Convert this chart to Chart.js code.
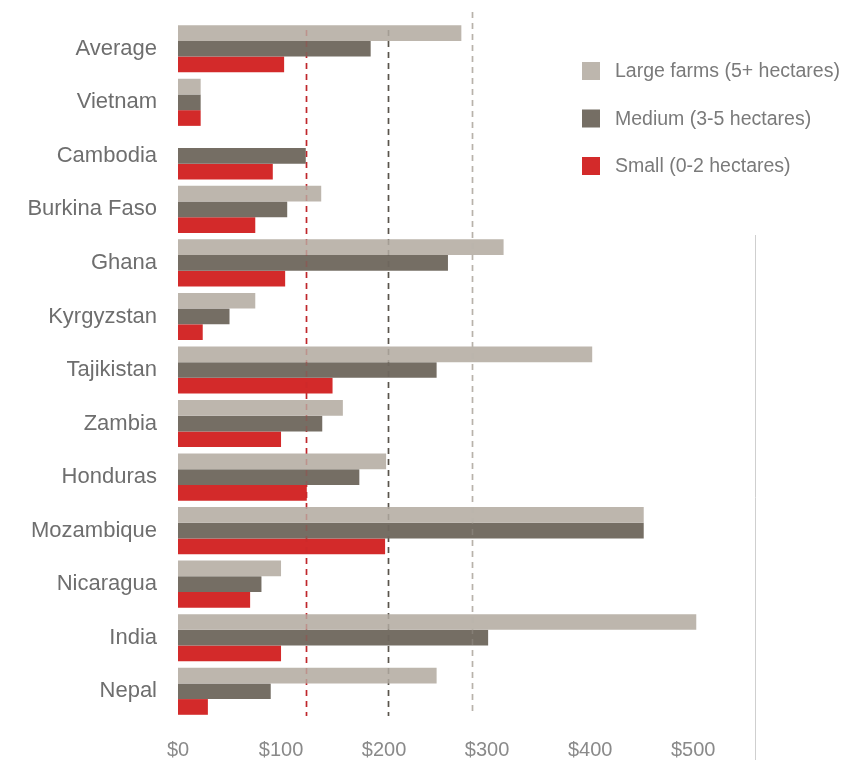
<!DOCTYPE html>
<html>
<head>
<meta charset="utf-8">
<script src="https://cdn.jsdelivr.net/npm/chart.js@4.4.1/dist/chart.umd.min.js"></script>
<style>
  html, body { margin: 0; padding: 0; background: #fff; }
  #wrap { position: relative; width: 856px; height: 771px; }
</style>
</head>
<body>
<div id="wrap"><canvas id="farmChart"></canvas></div>
<script>
// Countries, top to bottom
const countries = [
  'Average', 'Vietnam', 'Cambodia', 'Burkina Faso', 'Ghana', 'Kyrgyzstan',
  'Tajikistan', 'Zambia', 'Honduras', 'Mozambique', 'Nicaragua', 'India', 'Nepal'
];

// Values in USD per farm size
const largeFarms  = [275, 22, 0, 139, 316, 75, 402, 160, 202, 452, 100, 503, 251];
const mediumFarms = [187, 22, 124, 106, 262, 50, 251, 140, 176, 452, 81, 301, 90];
const smallFarms  = [103, 22, 92, 75, 104, 24, 150, 100, 125, 201, 70, 100, 29];

// Dashed reference lines (USD)
const refValues = [124, 204, 285];
const refColors = ['#c0262b', '#5a544c', '#b8b2aa'];

const seriesLabels = ['Large farms (5+ hectares)', 'Medium (3-5 hectares)', 'Small (0-2 hectares)'];
const seriesColors = ['#bdb6ad', '#756e64', '#d32a2a'];

const FONT = "'Liberation Sans', Arial, sans-serif";

// dashed vertical lines, drawn under the bars and faintly over them
const refLinesPlugin = {
  id: 'refLines',
  drawLines(chart, alpha) {
    const { ctx, scales: { x }, chartArea } = chart;
    ctx.save();
    ctx.globalAlpha = alpha;
    ctx.lineWidth = 1.6;
    ctx.setLineDash([6, 5]);
    refValues.forEach((v, i) => {
      const px = Math.round(x.getPixelForValue(v)) + 0.5;
      ctx.strokeStyle = refColors[i];
      ctx.beginPath();
      ctx.moveTo(px, i === 2 ? 12 : chartArea.top + 8);
      ctx.lineTo(px, chartArea.bottom - 2);
      ctx.stroke();
    });
    ctx.restore();
  },
  beforeDatasetsDraw(chart) { this.drawLines(chart, 1); },
  afterDatasetsDraw(chart) { this.drawLines(chart, 0.25); }
};

// legend block at the upper right plus the thin divider line
const sideLegendPlugin = {
  id: 'sideLegend',
  afterDraw(chart) {
    const { ctx } = chart;
    ctx.save();
    chart.data.datasets.forEach((ds, i) => {
      const cy = 71 + i * 47.5;
      ctx.fillStyle = ds.backgroundColor;
      ctx.fillRect(582, cy - 9, 18, 18);
      ctx.fillStyle = '#7a7a7a';
      ctx.font = '19.5px ' + FONT;
      ctx.textBaseline = 'middle';
      ctx.textAlign = 'left';
      ctx.fillText(ds.label, 615, cy + 1);
    });
    ctx.strokeStyle = '#cfcfcf';
    ctx.lineWidth = 1;
    ctx.setLineDash([]);
    ctx.beginPath();
    ctx.moveTo(755.5, 235);
    ctx.lineTo(755.5, 760);
    ctx.stroke();
    ctx.restore();
  }
};

const ctx = document.getElementById('farmChart').getContext('2d');
new Chart(ctx, {
  type: 'bar',
  data: {
    labels: countries,
    datasets: [
      { label: seriesLabels[0], data: largeFarms, backgroundColor: seriesColors[0] },
      { label: seriesLabels[1], data: mediumFarms, backgroundColor: seriesColors[1] },
      { label: seriesLabels[2], data: smallFarms, backgroundColor: seriesColors[2] }
    ]
  },
  options: {
    indexAxis: 'y',
    responsive: true,
    maintainAspectRatio: false,
    animation: false,
    layout: { padding: { top: 22, right: 101, bottom: 0, left: 0 } },
    datasets: {
      bar: { categoryPercentage: 0.88, barPercentage: 1.0, borderWidth: 0 }
    },
    plugins: {
      legend: { display: false },
      tooltip: { enabled: false }
    },
    scales: {
      x: {
        min: 0,
        max: 560,
        grid: { display: false, drawTicks: false },
        border: { display: false },
        afterFit: s => { s.height = 53; },
        afterBuildTicks: s => { s.ticks = s.ticks.filter(t => t.value % 100 === 0); },
        ticks: {
          stepSize: 100,
          padding: 20,
          color: '#8a8a8a',
          font: { size: 20, family: FONT },
          callback: v => '$' + v
        }
      },
      y: {
        grid: { display: false, drawTicks: false },
        border: { display: false },
        afterFit: s => {
          s.width = 178;
          // labels sit inside the category bands, no extra room needed
          s.paddingTop = 0;
          s.paddingBottom = 0;
        },
        ticks: {
          padding: 21,
          color: '#6e6e6e',
          font: { size: 22, family: FONT }
        }
      }
    }
  },
  plugins: [refLinesPlugin, sideLegendPlugin]
});
</script>
</body>
</html>
